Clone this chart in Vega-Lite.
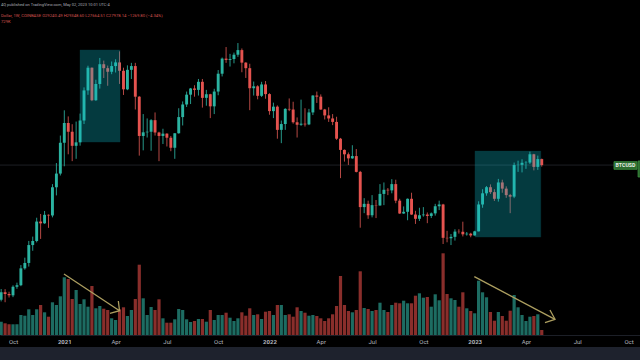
{
"$schema": "https://vega.github.io/schema/vega-lite/v6.json",
"width": 640, "height": 347,
"autosize": {"type": "none"},
"padding": {"left": 0, "top": 0, "right": 0, "bottom": 13},
"background": "#1e222d",
"config": {"view": {"fill": "#000000", "stroke": null}, "font": "Roboto"},
"title": {
 "text": "4Q published on TradingView.com, May 02, 2023 10:01 UTC-4",
 "subtitle": ["Dollar, 1W, COINBASE  O29240.49  H29348.60  L27664.51  C27978.14  −1269.80 (−4.34%)", "729K"],
 "anchor": "start", "frame": "group", "orient": "top", "offset": -24, "dx": 1,
 "font": "Roboto", "fontSize": 4, "fontWeight": "normal", "color": "#a9acb5",
 "subtitleFont": "Roboto", "subtitleFontSize": 4.2, "subtitleColor": "#d4524e", "subtitlePadding": 6.5, "subtitleLineHeight": 6
},
"datasets": {
"candles": [
{"d":"2020-09-14","o":10330,"h":11180,"l":10200,"c":10920,"v":1942},
{"d":"2020-09-21","o":10920,"h":11170,"l":10140,"c":10770,"v":1708},
{"d":"2020-09-28","o":10770,"h":10960,"l":10500,"c":10670,"v":1562},
{"d":"2020-10-05","o":10670,"h":11490,"l":10530,"c":11370,"v":1562},
{"d":"2020-10-12","o":11370,"h":11720,"l":11200,"c":11500,"v":1562},
{"d":"2020-10-19","o":11500,"h":13350,"l":11420,"c":13030,"v":2920},
{"d":"2020-10-26","o":13030,"h":14100,"l":12900,"c":13560,"v":2818},
{"d":"2020-11-02","o":13560,"h":15960,"l":13200,"c":15480,"v":3752},
{"d":"2020-11-09","o":15480,"h":16480,"l":14840,"c":15950,"v":2920},
{"d":"2020-11-16","o":15950,"h":18950,"l":15790,"c":18420,"v":3752},
{"d":"2020-11-23","o":18420,"h":19480,"l":16200,"c":18180,"v":4380},
{"d":"2020-11-30","o":18180,"h":19920,"l":18110,"c":19360,"v":3314},
{"d":"2020-12-07","o":19360,"h":19420,"l":17580,"c":19270,"v":2672},
{"d":"2020-12-14","o":19270,"h":24300,"l":19000,"c":23740,"v":4774},
{"d":"2020-12-21","o":23740,"h":28400,"l":22350,"c":26270,"v":4380},
{"d":"2020-12-28","o":26270,"h":34800,"l":25900,"c":33000,"v":5650},
{"d":"2021-01-04","o":33000,"h":41950,"l":27730,"c":38200,"v":8424},
{"d":"2021-01-11","o":38200,"h":40100,"l":30300,"c":35800,"v":8176},
{"d":"2021-01-18","o":35800,"h":37850,"l":28800,"c":32260,"v":5256},
{"d":"2021-01-25","o":32260,"h":38600,"l":29300,"c":33100,"v":6570},
{"d":"2021-02-01","o":33100,"h":40950,"l":32300,"c":38900,"v":4526},
{"d":"2021-02-08","o":38900,"h":49700,"l":37900,"c":48600,"v":5212},
{"d":"2021-02-15","o":48600,"h":58350,"l":47050,"c":57500,"v":4132},
{"d":"2021-02-22","o":57500,"h":57600,"l":44900,"c":45200,"v":7154},
{"d":"2021-03-01","o":45200,"h":52600,"l":45000,"c":50970,"v":3898},
{"d":"2021-03-08","o":50970,"h":61800,"l":49270,"c":59000,"v":4234},
{"d":"2021-03-15","o":59000,"h":60600,"l":53270,"c":57300,"v":3840},
{"d":"2021-03-22","o":57300,"h":58400,"l":50300,"c":55800,"v":3650},
{"d":"2021-03-29","o":55800,"h":60200,"l":54800,"c":58200,"v":2438},
{"d":"2021-04-05","o":58200,"h":61200,"l":55500,"c":59800,"v":2190},
{"d":"2021-04-12","o":59800,"h":64900,"l":51000,"c":56200,"v":3752},
{"d":"2021-04-19","o":56200,"h":57500,"l":47000,"c":49000,"v":4044},
{"d":"2021-04-26","o":49000,"h":58500,"l":48700,"c":56600,"v":2774},
{"d":"2021-05-03","o":56600,"h":59600,"l":52900,"c":58200,"v":3650},
{"d":"2021-05-10","o":58200,"h":59600,"l":42200,"c":46400,"v":5256},
{"d":"2021-05-17","o":46400,"h":46600,"l":30000,"c":34700,"v":10264},
{"d":"2021-05-24","o":34700,"h":40800,"l":31200,"c":35650,"v":5358},
{"d":"2021-05-31","o":35650,"h":39500,"l":34300,"c":35800,"v":2920},
{"d":"2021-06-07","o":35800,"h":39300,"l":31100,"c":39000,"v":4088},
{"d":"2021-06-14","o":39000,"h":41300,"l":34800,"c":35600,"v":3650},
{"d":"2021-06-21","o":35600,"h":35800,"l":28800,"c":34700,"v":5212},
{"d":"2021-06-28","o":34700,"h":36600,"l":32700,"c":35300,"v":2438},
{"d":"2021-07-05","o":35300,"h":35400,"l":32100,"c":34250,"v":1796},
{"d":"2021-07-12","o":34250,"h":34700,"l":31000,"c":31800,"v":1796},
{"d":"2021-07-19","o":31800,"h":35400,"l":29300,"c":35400,"v":2292},
{"d":"2021-07-26","o":35400,"h":42600,"l":35300,"c":39900,"v":3796},
{"d":"2021-08-02","o":39900,"h":44800,"l":37500,"c":43800,"v":3650},
{"d":"2021-08-09","o":43800,"h":48200,"l":43000,"c":47100,"v":2292},
{"d":"2021-08-16","o":47100,"h":49500,"l":43950,"c":49300,"v":1898},
{"d":"2021-08-23","o":49300,"h":50500,"l":46400,"c":48800,"v":2044},
{"d":"2021-08-30","o":48800,"h":52900,"l":46800,"c":51800,"v":2336},
{"d":"2021-09-06","o":51800,"h":52900,"l":42800,"c":46000,"v":2336},
{"d":"2021-09-13","o":46000,"h":48800,"l":43400,"c":47250,"v":1942},
{"d":"2021-09-20","o":47250,"h":47400,"l":39600,"c":43200,"v":3650},
{"d":"2021-09-27","o":43200,"h":49200,"l":40800,"c":48200,"v":2190},
{"d":"2021-10-04","o":48200,"h":56500,"l":46900,"c":55000,"v":2920},
{"d":"2021-10-11","o":55000,"h":62000,"l":53900,"c":61500,"v":2920},
{"d":"2021-10-18","o":61500,"h":67000,"l":59600,"c":60900,"v":3256},
{"d":"2021-10-25","o":60900,"h":63700,"l":58000,"c":61300,"v":2526},
{"d":"2021-11-01","o":61300,"h":64300,"l":59400,"c":63300,"v":2044},
{"d":"2021-11-08","o":63300,"h":69000,"l":62300,"c":65500,"v":2438},
{"d":"2021-11-15","o":65500,"h":66300,"l":55600,"c":59700,"v":3314},
{"d":"2021-11-22","o":59700,"h":59900,"l":53300,"c":57300,"v":2818},
{"d":"2021-11-29","o":57300,"h":59200,"l":42000,"c":49400,"v":3898},
{"d":"2021-12-06","o":49400,"h":51900,"l":46800,"c":50100,"v":2920},
{"d":"2021-12-13","o":50100,"h":50500,"l":45500,"c":46700,"v":3022},
{"d":"2021-12-20","o":46700,"h":51800,"l":46300,"c":50800,"v":2336},
{"d":"2021-12-27","o":50800,"h":52100,"l":45700,"c":47300,"v":3402},
{"d":"2022-01-03","o":47300,"h":47600,"l":40600,"c":41700,"v":3504},
{"d":"2022-01-10","o":41700,"h":44400,"l":39600,"c":43100,"v":2920},
{"d":"2022-01-17","o":43100,"h":43500,"l":34000,"c":36300,"v":4380},
{"d":"2022-01-24","o":36300,"h":38900,"l":32900,"c":37900,"v":4380},
{"d":"2022-01-31","o":37900,"h":42600,"l":36300,"c":42400,"v":2920},
{"d":"2022-02-07","o":42400,"h":45800,"l":41700,"c":42200,"v":3022},
{"d":"2022-02-14","o":42200,"h":44700,"l":38000,"c":38400,"v":2672},
{"d":"2022-02-21","o":38400,"h":39800,"l":34300,"c":37700,"v":4044},
{"d":"2022-02-28","o":37700,"h":45400,"l":37400,"c":38000,"v":3504},
{"d":"2022-03-07","o":38000,"h":42600,"l":37200,"c":37800,"v":3256},
{"d":"2022-03-14","o":37800,"h":42400,"l":37600,"c":41300,"v":2818},
{"d":"2022-03-21","o":41300,"h":46900,"l":40500,"c":46800,"v":2920},
{"d":"2022-03-28","o":46800,"h":48200,"l":44300,"c":46400,"v":2774},
{"d":"2022-04-04","o":46400,"h":47200,"l":42100,"c":42200,"v":2438},
{"d":"2022-04-11","o":42200,"h":42400,"l":39200,"c":40400,"v":2044},
{"d":"2022-04-18","o":40400,"h":42900,"l":38500,"c":39500,"v":2438},
{"d":"2022-04-25","o":39500,"h":40800,"l":37600,"c":38500,"v":3022},
{"d":"2022-05-02","o":38500,"h":40000,"l":33700,"c":34000,"v":4234},
{"d":"2022-05-09","o":34000,"h":34200,"l":25400,"c":31300,"v":8614},
{"d":"2022-05-16","o":31300,"h":31400,"l":28700,"c":30300,"v":4380},
{"d":"2022-05-23","o":30300,"h":30700,"l":28000,"c":29400,"v":3504},
{"d":"2022-05-30","o":29400,"h":32400,"l":29300,"c":29900,"v":3314},
{"d":"2022-06-06","o":29900,"h":31500,"l":26500,"c":26600,"v":3650},
{"d":"2022-06-13","o":26600,"h":26800,"l":17600,"c":20500,"v":9300},
{"d":"2022-06-20","o":20500,"h":21900,"l":19600,"c":21000,"v":3942},
{"d":"2022-06-27","o":21000,"h":21500,"l":18800,"c":19300,"v":3796},
{"d":"2022-07-04","o":19300,"h":22400,"l":19000,"c":20800,"v":3504},
{"d":"2022-07-11","o":20800,"h":21600,"l":18900,"c":20750,"v":3650},
{"d":"2022-07-18","o":20750,"h":24300,"l":20700,"c":22600,"v":4716},
{"d":"2022-07-25","o":22600,"h":24600,"l":20800,"c":23300,"v":3650},
{"d":"2022-08-01","o":23300,"h":23600,"l":22400,"c":23200,"v":3358},
{"d":"2022-08-08","o":23200,"h":25200,"l":22700,"c":24300,"v":4380},
{"d":"2022-08-15","o":24300,"h":25100,"l":21100,"c":21500,"v":4716},
{"d":"2022-08-22","o":21500,"h":21800,"l":19500,"c":19550,"v":4628},
{"d":"2022-08-29","o":19550,"h":20600,"l":19500,"c":19800,"v":5008},
{"d":"2022-09-05","o":19800,"h":21850,"l":18600,"c":21800,"v":4628},
{"d":"2022-09-12","o":21800,"h":22800,"l":19350,"c":19400,"v":4628},
{"d":"2022-09-19","o":19400,"h":19950,"l":18100,"c":18800,"v":5738},
{"d":"2022-09-26","o":18800,"h":20400,"l":18500,"c":19300,"v":6088},
{"d":"2022-10-03","o":19300,"h":20500,"l":19100,"c":19400,"v":5446},
{"d":"2022-10-10","o":19400,"h":19700,"l":18200,"c":19200,"v":5548},
{"d":"2022-10-17","o":19200,"h":19700,"l":18900,"c":19570,"v":4132},
{"d":"2022-10-24","o":19570,"h":21000,"l":19250,"c":20630,"v":5942},
{"d":"2022-10-31","o":20630,"h":21500,"l":20050,"c":20900,"v":5066},
{"d":"2022-11-07","o":20900,"h":21000,"l":15600,"c":16330,"v":11928},
{"d":"2022-11-14","o":16330,"h":17200,"l":15800,"c":16280,"v":5986},
{"d":"2022-11-21","o":16280,"h":16800,"l":15480,"c":16450,"v":5358},
{"d":"2022-11-28","o":16450,"h":17400,"l":16000,"c":17100,"v":5110},
{"d":"2022-12-05","o":17100,"h":17400,"l":16850,"c":17080,"v":4132},
{"d":"2022-12-12","o":17080,"h":18400,"l":16500,"c":16760,"v":6234},
{"d":"2022-12-19","o":16760,"h":17050,"l":16600,"c":16840,"v":3898},
{"d":"2022-12-26","o":16840,"h":16950,"l":16400,"c":16620,"v":3504},
{"d":"2023-01-02","o":16620,"h":17200,"l":16600,"c":17130,"v":3168},
{"d":"2023-01-09","o":17130,"h":21400,"l":17120,"c":20900,"v":7928},
{"d":"2023-01-16","o":20900,"h":23400,"l":20400,"c":22700,"v":6234},
{"d":"2023-01-23","o":22700,"h":23950,"l":22300,"c":23750,"v":5504},
{"d":"2023-01-30","o":23750,"h":24250,"l":22600,"c":22900,"v":3358},
{"d":"2023-02-06","o":22900,"h":23400,"l":21450,"c":21800,"v":2088},
{"d":"2023-02-13","o":21800,"h":25250,"l":21350,"c":24600,"v":3358},
{"d":"2023-02-20","o":24600,"h":25100,"l":22800,"c":23500,"v":2774},
{"d":"2023-02-27","o":23500,"h":23900,"l":21950,"c":22400,"v":2088},
{"d":"2023-03-06","o":22400,"h":22600,"l":19600,"c":22150,"v":3548},
{"d":"2023-03-13","o":22150,"h":28500,"l":21900,"c":27980,"v":5840},
{"d":"2023-03-20","o":27980,"h":28900,"l":26600,"c":28020,"v":4044},
{"d":"2023-03-27","o":28020,"h":29200,"l":26500,"c":28450,"v":2920},
{"d":"2023-04-03","o":28450,"h":28800,"l":27200,"c":28500,"v":2044},
{"d":"2023-04-10","o":28500,"h":30900,"l":28200,"c":30300,"v":2672},
{"d":"2023-04-17","o":30300,"h":30400,"l":26900,"c":27600,"v":2774},
{"d":"2023-04-24","o":27600,"h":30000,"l":27000,"c":29240,"v":3022},
{"d":"2023-05-01","o":29240,"h":29350,"l":27660,"c":27978,"v":729}
],
"boxes": [
{"d":"2021-01-31T21:00:00Z","d2":"2021-04-12T21:00:00Z","p":33170,"p2":65550},
{"d":"2023-01-02T13:00:00Z","d2":"2023-04-29T06:00:00Z","p":16420,"p2":31020}
],
"arrows": [
{"g":"a1s","k":0,"d":"2021-01-03T10:00:00Z","v":8906},
{"g":"a1s","k":1,"d":"2021-04-11T23:00:00Z","v":3548},
{"g":"a1h","k":0,"d":"2021-04-09T21:00:00Z","v":4964},
{"g":"a1h","k":1,"d":"2021-04-11T23:00:00Z","v":3548},
{"g":"a1h","k":2,"d":"2021-03-26T01:00:00Z","v":3168},
{"g":"a2s","k":0,"d":"2023-01-01T08:00:00Z","v":8512},
{"g":"a2s","k":1,"d":"2023-05-24T13:00:00Z","v":2292},
{"g":"a2h","k":0,"d":"2023-05-15T14:00:00Z","v":3650},
{"g":"a2h","k":1,"d":"2023-05-24T13:00:00Z","v":2292},
{"g":"a2h","k":2,"d":"2023-05-06T17:00:00Z","v":1796}
]
},
"encoding": {
 "x": {"field": "d", "type": "temporal",
  "scale": {"type": "utc", "nice": false, "padding": 0, "domain": [{"year":2020,"month":9,"date":11,"hours":22,"minutes":30,"utc":true},{"year":2023,"month":10,"date":22,"hours":7,"utc":true}]},
  "axis": {"title": null, "offset": -12, "ticks": false, "grid": false, "domain": true, "domainColor": "#1c1f27",
   "labelColor": "#b2b5be", "labelFontSize": 6, "labelFont": "Roboto", "labelPadding": 3, "labelOverlap": false, "labelFlush": false,
   "labelExpr": "utcFormat(datum.value, utcmonth(datum.value) == 0 ? '%Y' : '%b')",
   "labelFontWeight": {"condition": {"test": "utcmonth(datum.value) == 0", "value": "bold"}, "value": "normal"},
   "values": [
    {"year":2020,"month":10,"date":5,"utc":true},
    {"year":2021,"month":1,"date":4,"utc":true},
    {"year":2021,"month":4,"date":5,"utc":true},
    {"year":2021,"month":7,"date":5,"utc":true},
    {"year":2021,"month":10,"date":4,"utc":true},
    {"year":2022,"month":1,"date":3,"utc":true},
    {"year":2022,"month":4,"date":4,"utc":true},
    {"year":2022,"month":7,"date":4,"utc":true},
    {"year":2022,"month":10,"date":3,"utc":true},
    {"year":2023,"month":1,"date":2,"utc":true},
    {"year":2023,"month":4,"date":3,"utc":true},
    {"year":2023,"month":7,"date":3,"utc":true},
    {"year":2023,"month":10,"date":2,"utc":true}
   ]}
 }
},
"layer": [
 {"layer": [
  {"data": {"name": "candles"},
   "mark": {"type": "bar", "size": 3.2},
   "encoding": {
    "y": {"field": "v", "type": "quantitative", "scale": {"domain": [-1752, 48910], "nice": false, "zero": false}, "axis": null},
    "color": {"condition": {"test": "datum.c >= datum.o", "value": "#1d6c62"}, "value": "#892e2b"}
   }},
  {"data": {"name": "arrows"},
   "mark": {"type": "line", "color": "#ad9f60", "strokeWidth": 1.3},
   "encoding": {
    "y": {"field": "v", "type": "quantitative", "scale": {"domain": [-1752, 48910], "nice": false, "zero": false}, "axis": null},
    "detail": {"field": "g"},
    "order": {"field": "k"}
   }}
 ]},
 {"layer": [
  {"data": {"values": [{"d": "2020-09-01", "d2": "2023-11-30", "p": 27978}]},
   "mark": {"type": "rule", "color": "#1d1f24", "strokeWidth": 1},
   "encoding": {
    "x2": {"field": "d2"},
    "y": {"field": "p", "type": "quantitative", "scale": {"type": "log", "domain": [7281, 94890], "nice": false}, "axis": null}
   }},
  {"data": {"name": "candles"},
   "mark": {"type": "rule", "strokeWidth": 0.9},
   "encoding": {
    "y": {"field": "l", "type": "quantitative", "scale": {"type": "log", "domain": [7281, 94890], "nice": false}, "axis": null},
    "y2": {"field": "h"},
    "color": {"condition": {"test": "datum.c >= datum.o", "value": "#2aa898"}, "value": "#c9504c"}
   }},
  {"data": {"name": "candles"},
   "mark": {"type": "bar", "size": 2.9},
   "encoding": {
    "y": {"field": "o", "type": "quantitative", "scale": {"type": "log", "domain": [7281, 94890], "nice": false}, "axis": null},
    "y2": {"field": "c"},
    "color": {"condition": {"test": "datum.c >= datum.o", "value": "#2bb3a1"}, "value": "#e5534f"}
   }},
  {"data": {"name": "boxes"},
   "mark": {"type": "rect", "color": "#10bfd2", "opacity": 0.3, "stroke": "#10bfd2", "strokeOpacity": 0.35, "strokeWidth": 1},
   "encoding": {
    "x2": {"field": "d2"},
    "y": {"field": "p", "type": "quantitative", "scale": {"type": "log", "domain": [7281, 94890], "nice": false}, "axis": null},
    "y2": {"field": "p2"}
   }},
  {"data": {"values": [{"d": "2023-09-06T03:00:00Z", "d2": "2023-10-17T00:00:00Z", "p": 27110, "p2": 28690}, {"d": "2023-10-18T20:00:00Z", "d2": "2023-11-10T00:00:00Z", "p": 25610, "p2": 28840}]},
   "mark": {"type": "rect", "color": "#2b6b2e", "stroke": "#3c8f40", "strokeWidth": 0.8},
   "encoding": {
    "x2": {"field": "d2"},
    "y": {"field": "p", "type": "quantitative", "scale": {"type": "log", "domain": [7281, 94890], "nice": false}, "axis": null},
    "y2": {"field": "p2"}
   }},
  {"data": {"values": [{"d": "2023-09-26T13:00:00Z", "p": 27890, "t": "BTCUSD"}]},
   "mark": {"type": "text", "color": "#e8efe8", "fontSize": 5.2, "fontWeight": "bold", "font": "Roboto", "baseline": "middle", "align": "center"},
   "encoding": {
    "y": {"field": "p", "type": "quantitative", "scale": {"type": "log", "domain": [7281, 94890], "nice": false}, "axis": null},
    "text": {"field": "t"}
   }}
 ]}
],
"resolve": {"scale": {"y": "independent"}}
}
